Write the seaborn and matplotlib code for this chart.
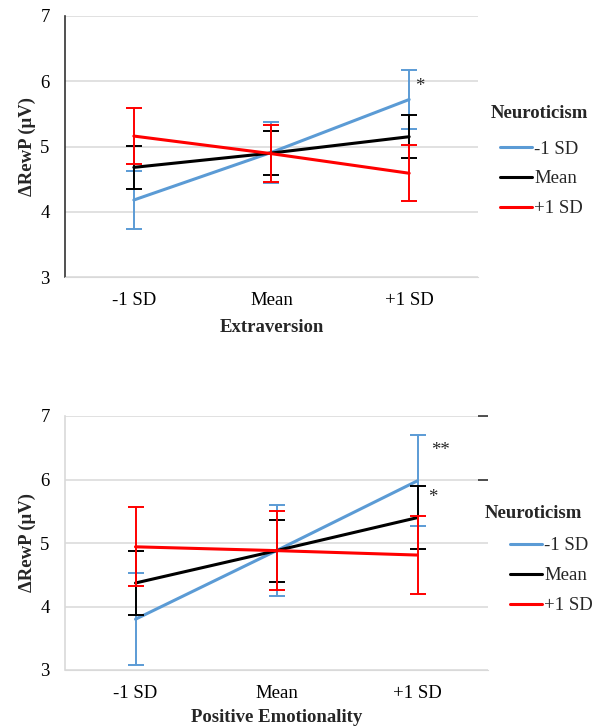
"""Simple slopes of RewP by Extraversion / Positive Emotionality at levels of Neuroticism."""
import pandas as pd
import matplotlib
matplotlib.use('Agg')
import matplotlib.pyplot as plt
import seaborn as sns

sns.set_style("white")
plt.rcParams['font.family'] = ['Liberation Serif', 'DejaVu Serif']

# --- data ---
levels = ['-1 SD', 'Mean', '+1 SD']          # x categories (trait level)
groups = ['-1 SD', 'Mean', '+1 SD']          # Neuroticism level (hue)
colors = ['#5B9BD5', '#000000', '#FF0000']

# Extraversion panel
extra_low = [4.18, 4.91, 5.72]
extra_low_err = [0.45, 0.47, 0.45]
extra_mean = [4.68, 4.90, 5.15]
extra_mean_err = [0.33, 0.34, 0.33]
extra_high = [5.16, 4.89, 4.59]
extra_high_err = [0.43, 0.44, 0.43]

# Positive Emotionality panel
pe_low = [3.80, 4.88, 5.98]
pe_low_err = [0.72, 0.72, 0.72]
pe_mean = [4.37, 4.88, 5.40]
pe_mean_err = [0.50, 0.49, 0.49]
pe_high = [4.94, 4.88, 4.81]
pe_high_err = [0.62, 0.62, 0.62]

ylabel = 'ΔRewP (μV)'
legend_title = 'Neuroticism'
FS = 13.5


def long_frame(series, errs):
    rows = []
    for g, vals, es in zip(groups, series, errs):
        for i, (v, e) in enumerate(zip(vals, es)):
            rows.append({'pos': i, 'level': levels[i], 'group': g, 'value': v, 'err': e})
    return pd.DataFrame(rows)


def draw_panel(ax, df, xlabel, left_spine_color, xlabelpad=7):
    for y in [3, 4, 5, 6, 7]:
        ax.axhline(y, color='#d9d9d9', lw=1.1, zorder=0)
    sns.lineplot(data=df, x='pos', y='value', hue='group', hue_order=groups,
                 palette=colors, lw=2.2, ax=ax, sort=False, legend=True, zorder=3)
    for g, c in zip(groups, colors):
        sub = df[df['group'] == g]
        ax.errorbar(sub['pos'], sub['value'], yerr=sub['err'], fmt='none',
                    ecolor=c, elinewidth=1.4, capsize=5.5, capthick=1.4, zorder=4)
    ax.set_xlim(-0.5, 2.5)
    ax.set_ylim(3, 7)
    ax.set_xticks(range(len(levels)))
    ax.set_xticklabels(levels)
    ax.set_yticks([3, 4, 5, 6, 7])
    ax.tick_params(axis='both', length=0, labelsize=FS, colors='black')
    ax.tick_params(axis='y', pad=11)
    ax.tick_params(axis='x', pad=11)
    ax.set_xlabel(xlabel, fontsize=FS, fontweight='bold', labelpad=xlabelpad)
    ax.set_ylabel(ylabel, fontsize=FS, fontweight='bold', labelpad=3)
    for s in ['top', 'right']:
        ax.spines[s].set_visible(False)
    ax.spines['bottom'].set_color('#d9d9d9')
    ax.spines['left'].set_color(left_spine_color)
    ax.spines['left'].set_linewidth(1.2)
    handles, labels = ax.get_legend_handles_labels()
    ax.get_legend().remove()
    return handles, labels


fig = plt.figure(figsize=(6.03, 7.28), dpi=100)

# --- top: Extraversion ---
ax1 = fig.add_axes([65 / 603, 1 - 277 / 728, 413 / 603, 261 / 728])
df1 = long_frame([extra_low, extra_mean, extra_high],
                 [extra_low_err, extra_mean_err, extra_high_err])
h, l = draw_panel(ax1, df1, 'Extraversion', '#333333')
ax1.text(2.08, 5.92, '*', fontsize=FS, ha='center', va='center')
fig.text(491 / 603, 1 - 113 / 728, legend_title, fontsize=FS, fontweight='bold',
         ha='left', va='center')
fig.legend(h, l, loc='upper left', bbox_to_anchor=(491 / 603, 1 - 131 / 728),
           frameon=False, fontsize=FS, borderpad=0, handlelength=1.7,
           handletextpad=0.1, labelspacing=0.68)

# --- bottom: Positive Emotionality ---
ax2 = fig.add_axes([65 / 603, 1 - 670 / 728, 423 / 603, 254 / 728])
df2 = long_frame([pe_low, pe_mean, pe_high],
                 [pe_low_err, pe_mean_err, pe_high_err])
h, l = draw_panel(ax2, df2, 'Positive Emotionality', '#d9d9d9', xlabelpad=5)
ax2.text(2.16, 6.45, '**', fontsize=FS, ha='center', va='center')
ax2.text(2.11, 5.72, '*', fontsize=FS, ha='center', va='center')
# stray right-hand tick marks at 6 and 7
tw = ax2.twinx()
tw.set_ylim(3, 7)
tw.set_yticks([6, 7])
tw.tick_params(axis='y', direction='in', length=7, width=1.2, color='#333333',
               labelright=False)
for s in tw.spines.values():
    s.set_visible(False)
fig.text(485 / 603, 1 - 513 / 728, legend_title, fontsize=FS, fontweight='bold',
         ha='left', va='center')
fig.legend(h, l, loc='upper left', bbox_to_anchor=(501 / 603, 1 - 528 / 728),
           frameon=False, fontsize=FS, borderpad=0, handlelength=1.7,
           handletextpad=0.1, labelspacing=0.68)

fig.savefig('out.png', dpi=100)
plt.close()
